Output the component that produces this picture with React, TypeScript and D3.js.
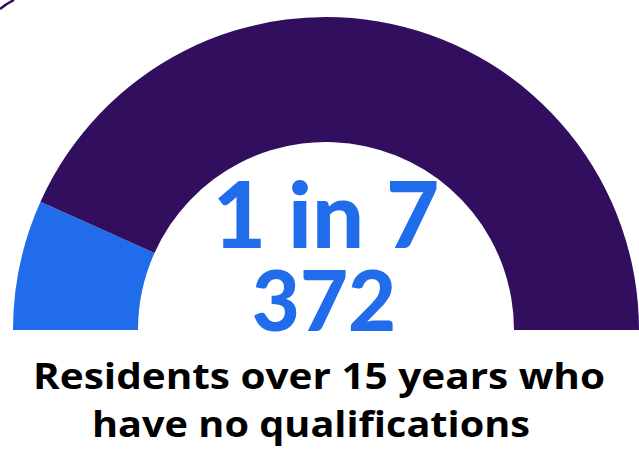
import React, { useEffect, useRef } from 'react';
import * as d3 from 'd3';

// Residents aged 15+ split by qualification status
const categories = ['No qualifications', 'Has qualifications'];
const residents = [372, 2396];
const colours = ['#216ceb', '#320e5f'];

const headline = '1 in 7';
const countLabel = '372';
const captionLines = ['Residents over 15 years who', 'have no qualifications'];
const captionWidths = [572, 438];

const width = 639;
const height = 450;

const App: React.FC = () => {
  const svgRef = useRef<SVGSVGElement | null>(null);

  useEffect(() => {
    const svg = d3.select(svgRef.current);
    svg.selectAll('*').remove();

    const cx = 326;
    const cy = 330;
    const outer = 313;
    const inner = 188;

    const pie = d3.pie<number>()
      .sort(null)
      .value((d) => d)
      .startAngle(-Math.PI / 2)
      .endAngle(Math.PI / 2);

    const arc = d3.arc<d3.PieArcDatum<number>>()
      .innerRadius(inner)
      .outerRadius(outer);

    const g = svg.append('g').attr('transform', `translate(${cx},${cy})`);

    g.selectAll('path')
      .data(pie(residents))
      .join('path')
      .attr('d', arc)
      .attr('fill', (d, i) => colours[i])
      .append('title')
      .text((d, i) => `${categories[i]}: ${d.data}`);

    // edge of the neighbouring gauge peeking in at the corner
    svg.append('path')
      .attr('d', 'M0,9 Q6,4 14,0')
      .attr('stroke', colours[1])
      .attr('stroke-width', 2.5)
      .attr('fill', 'none');

    g.append('text')
      .attr('x', 0)
      .attr('y', -82)
      .attr('text-anchor', 'middle')
      .attr('font-family', 'Lato, sans-serif')
      .attr('font-weight', 900)
      .attr('font-size', 92)
      .attr('fill', colours[0])
      .text(headline);

    g.append('text')
      .attr('x', -2)
      .attr('y', 1)
      .attr('text-anchor', 'middle')
      .attr('font-family', 'Lato, sans-serif')
      .attr('font-weight', 900)
      .attr('font-size', 83)
      .attr('fill', colours[0])
      .text(countLabel);

    svg.append('g')
      .selectAll('text')
      .data(captionLines)
      .join('text')
      .attr('x', (d, i) => (i === 0 ? 319 : 311))
      .attr('y', (d, i) => 389 + i * 48)
      .attr('text-anchor', 'middle')
      .attr('font-family', '"Open Sans", sans-serif')
      .attr('font-weight', 700)
      .attr('font-size', 36)
      .attr('textLength', (d, i) => captionWidths[i])
      .attr('lengthAdjust', 'spacingAndGlyphs')
      .attr('fill', '#000')
      .text((d) => d);
  }, []);

  return (
    <svg
      ref={svgRef}
      width={width}
      height={height}
      style={{ position: 'fixed', left: 0, top: 0, background: '#fff' }}
    />
  );
};

export default App;
